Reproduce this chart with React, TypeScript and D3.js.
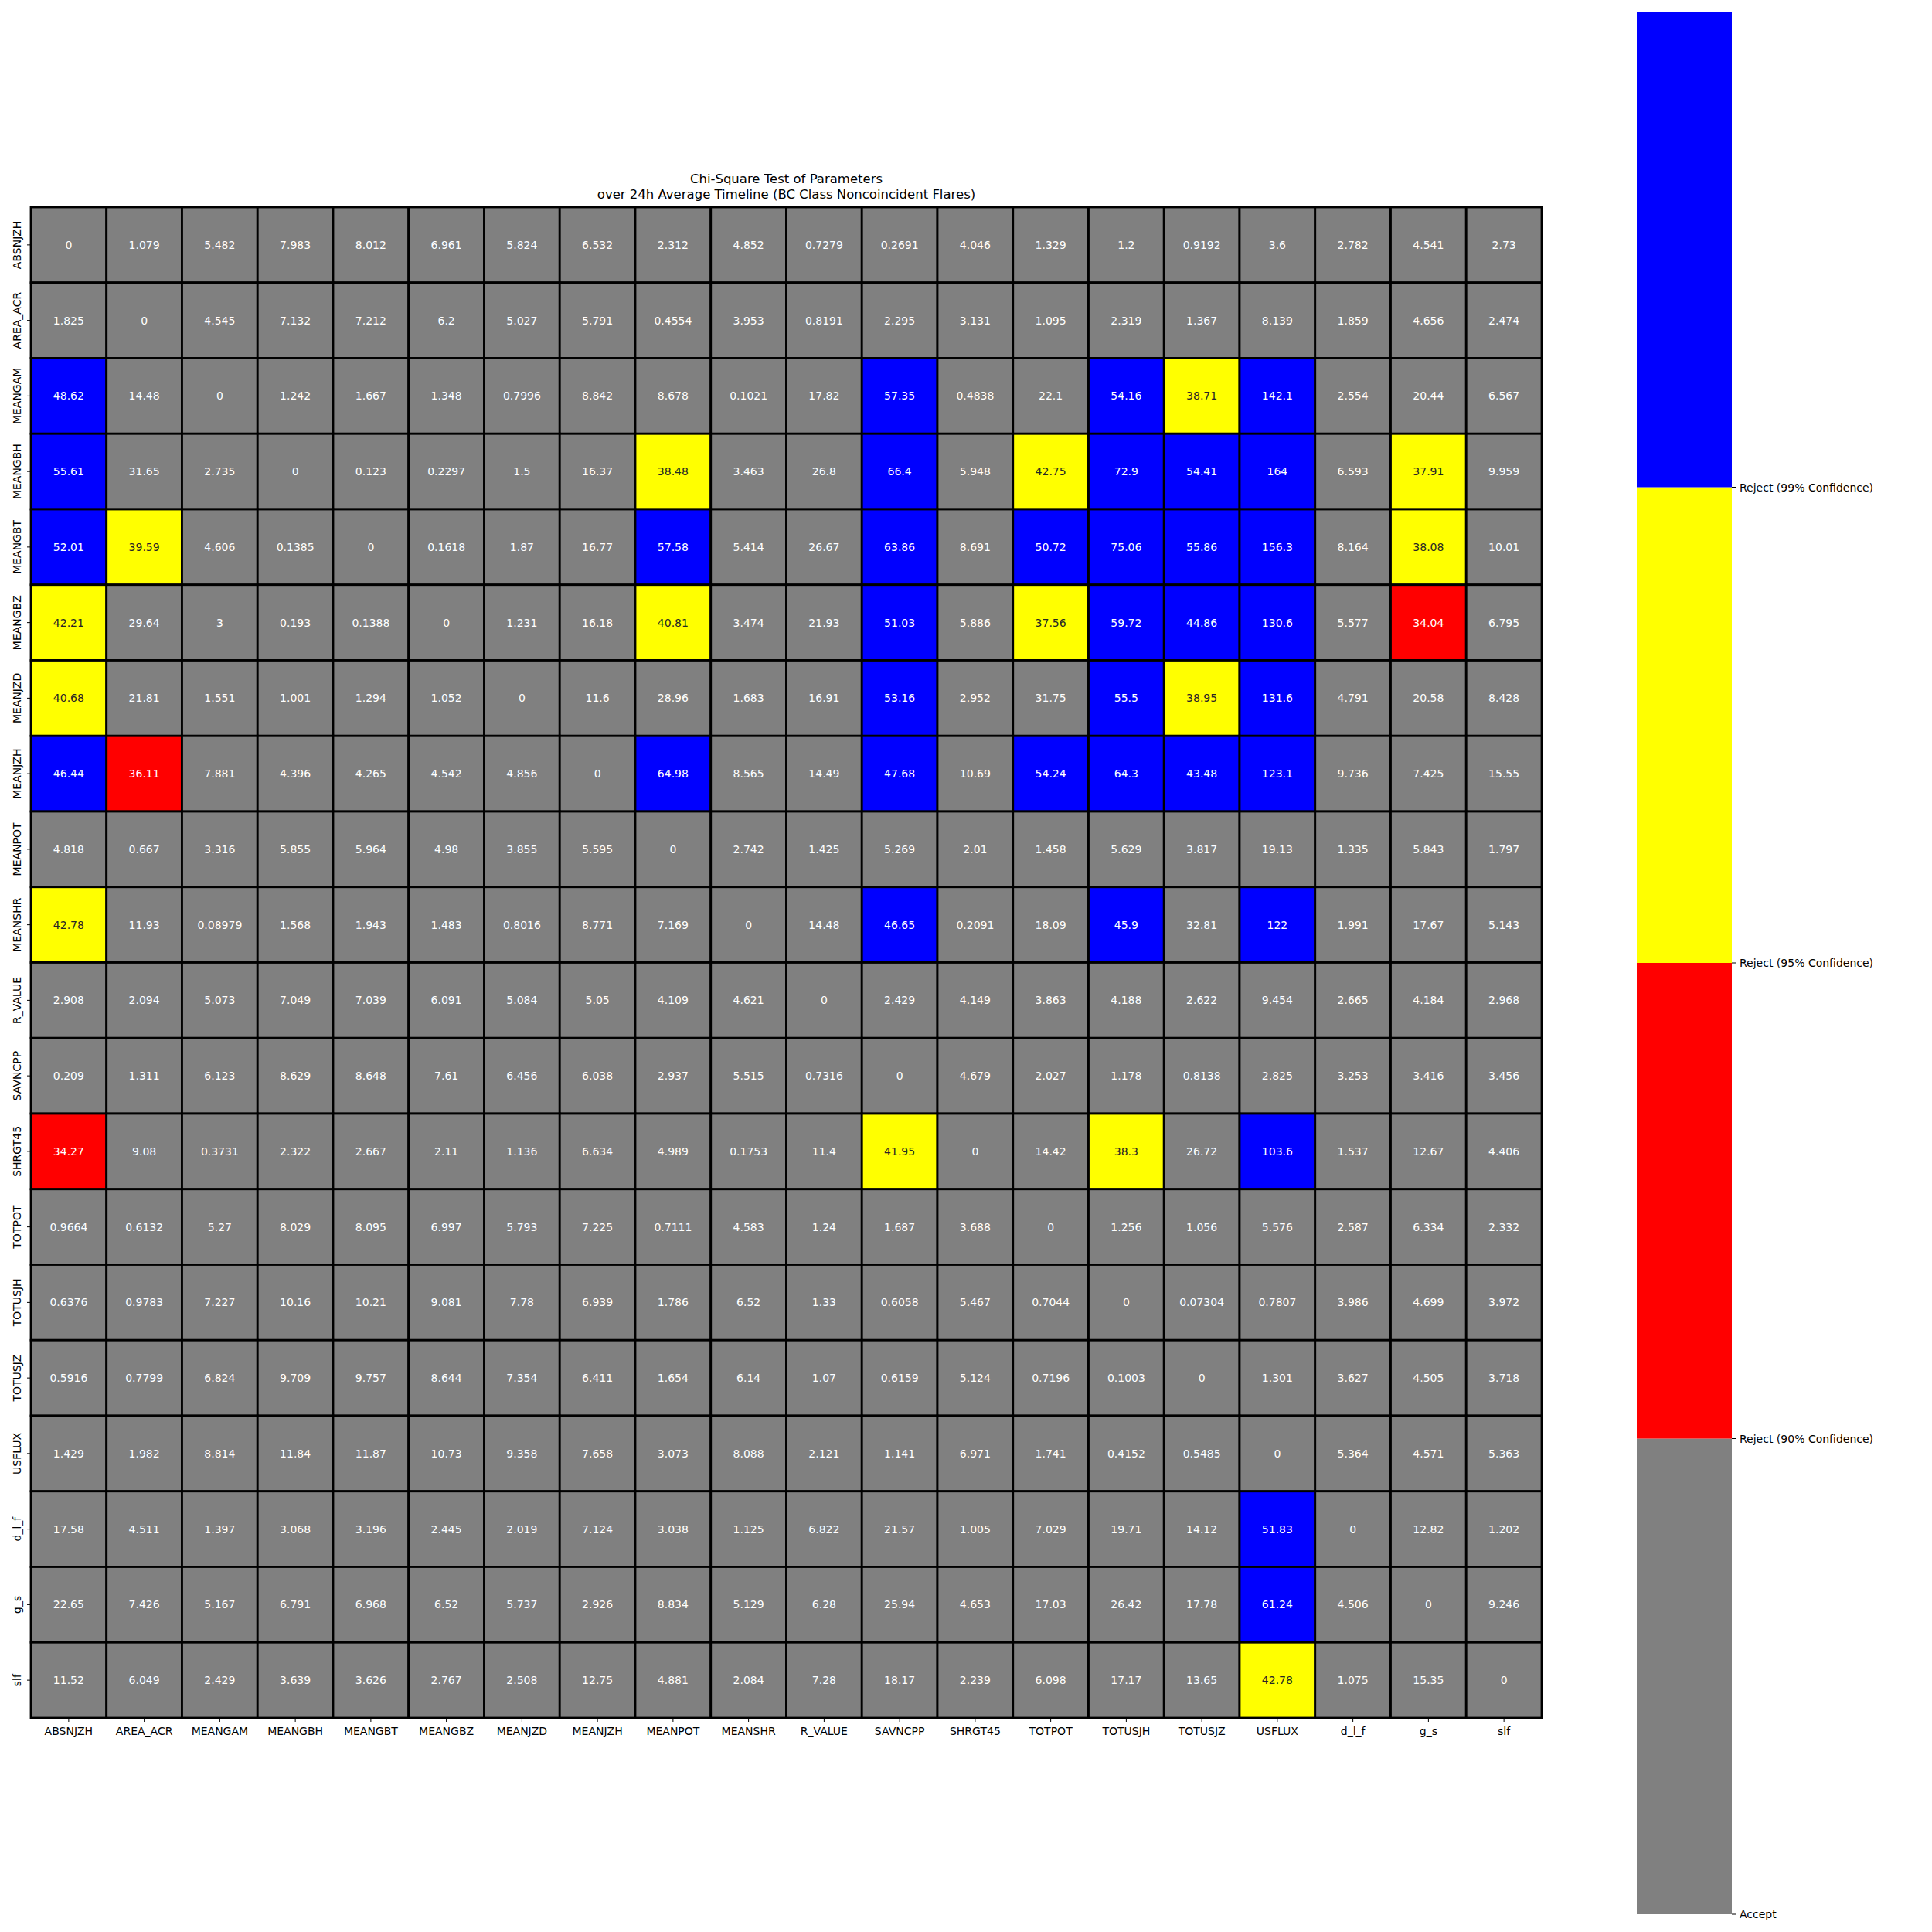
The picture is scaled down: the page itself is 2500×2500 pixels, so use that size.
import React from "react";
import * as d3 from "d3";

const labels = ["ABSNJZH", "AREA_ACR", "MEANGAM", "MEANGBH", "MEANGBT", "MEANGBZ", "MEANJZD", "MEANJZH", "MEANPOT", "MEANSHR", "R_VALUE", "SAVNCPP", "SHRGT45", "TOTPOT", "TOTUSJH", "TOTUSJZ", "USFLUX", "d_l_f", "g_s", "slf"];

const rowABSNJZH = [0, 1.079, 5.482, 7.983, 8.012, 6.961, 5.824, 6.532, 2.312, 4.852, 0.7279, 0.2691, 4.046, 1.329, 1.2, 0.9192, 3.6, 2.782, 4.541, 2.73];
const rowAREA_ACR = [1.825, 0, 4.545, 7.132, 7.212, 6.2, 5.027, 5.791, 0.4554, 3.953, 0.8191, 2.295, 3.131, 1.095, 2.319, 1.367, 8.139, 1.859, 4.656, 2.474];
const rowMEANGAM = [48.62, 14.48, 0, 1.242, 1.667, 1.348, 0.7996, 8.842, 8.678, 0.1021, 17.82, 57.35, 0.4838, 22.1, 54.16, 38.71, 142.1, 2.554, 20.44, 6.567];
const rowMEANGBH = [55.61, 31.65, 2.735, 0, 0.123, 0.2297, 1.5, 16.37, 38.48, 3.463, 26.8, 66.4, 5.948, 42.75, 72.9, 54.41, 164, 6.593, 37.91, 9.959];
const rowMEANGBT = [52.01, 39.59, 4.606, 0.1385, 0, 0.1618, 1.87, 16.77, 57.58, 5.414, 26.67, 63.86, 8.691, 50.72, 75.06, 55.86, 156.3, 8.164, 38.08, 10.01];
const rowMEANGBZ = [42.21, 29.64, 3, 0.193, 0.1388, 0, 1.231, 16.18, 40.81, 3.474, 21.93, 51.03, 5.886, 37.56, 59.72, 44.86, 130.6, 5.577, 34.04, 6.795];
const rowMEANJZD = [40.68, 21.81, 1.551, 1.001, 1.294, 1.052, 0, 11.6, 28.96, 1.683, 16.91, 53.16, 2.952, 31.75, 55.5, 38.95, 131.6, 4.791, 20.58, 8.428];
const rowMEANJZH = [46.44, 36.11, 7.881, 4.396, 4.265, 4.542, 4.856, 0, 64.98, 8.565, 14.49, 47.68, 10.69, 54.24, 64.3, 43.48, 123.1, 9.736, 7.425, 15.55];
const rowMEANPOT = [4.818, 0.667, 3.316, 5.855, 5.964, 4.98, 3.855, 5.595, 0, 2.742, 1.425, 5.269, 2.01, 1.458, 5.629, 3.817, 19.13, 1.335, 5.843, 1.797];
const rowMEANSHR = [42.78, 11.93, 0.08979, 1.568, 1.943, 1.483, 0.8016, 8.771, 7.169, 0, 14.48, 46.65, 0.2091, 18.09, 45.9, 32.81, 122, 1.991, 17.67, 5.143];
const rowR_VALUE = [2.908, 2.094, 5.073, 7.049, 7.039, 6.091, 5.084, 5.05, 4.109, 4.621, 0, 2.429, 4.149, 3.863, 4.188, 2.622, 9.454, 2.665, 4.184, 2.968];
const rowSAVNCPP = [0.209, 1.311, 6.123, 8.629, 8.648, 7.61, 6.456, 6.038, 2.937, 5.515, 0.7316, 0, 4.679, 2.027, 1.178, 0.8138, 2.825, 3.253, 3.416, 3.456];
const rowSHRGT45 = [34.27, 9.08, 0.3731, 2.322, 2.667, 2.11, 1.136, 6.634, 4.989, 0.1753, 11.4, 41.95, 0, 14.42, 38.3, 26.72, 103.6, 1.537, 12.67, 4.406];
const rowTOTPOT = [0.9664, 0.6132, 5.27, 8.029, 8.095, 6.997, 5.793, 7.225, 0.7111, 4.583, 1.24, 1.687, 3.688, 0, 1.256, 1.056, 5.576, 2.587, 6.334, 2.332];
const rowTOTUSJH = [0.6376, 0.9783, 7.227, 10.16, 10.21, 9.081, 7.78, 6.939, 1.786, 6.52, 1.33, 0.6058, 5.467, 0.7044, 0, 0.07304, 0.7807, 3.986, 4.699, 3.972];
const rowTOTUSJZ = [0.5916, 0.7799, 6.824, 9.709, 9.757, 8.644, 7.354, 6.411, 1.654, 6.14, 1.07, 0.6159, 5.124, 0.7196, 0.1003, 0, 1.301, 3.627, 4.505, 3.718];
const rowUSFLUX = [1.429, 1.982, 8.814, 11.84, 11.87, 10.73, 9.358, 7.658, 3.073, 8.088, 2.121, 1.141, 6.971, 1.741, 0.4152, 0.5485, 0, 5.364, 4.571, 5.363];
const rowD_L_F = [17.58, 4.511, 1.397, 3.068, 3.196, 2.445, 2.019, 7.124, 3.038, 1.125, 6.822, 21.57, 1.005, 7.029, 19.71, 14.12, 51.83, 0, 12.82, 1.202];
const rowG_S = [22.65, 7.426, 5.167, 6.791, 6.968, 6.52, 5.737, 2.926, 8.834, 5.129, 6.28, 25.94, 4.653, 17.03, 26.42, 17.78, 61.24, 4.506, 0, 9.246];
const rowSLF = [11.52, 6.049, 2.429, 3.639, 3.626, 2.767, 2.508, 12.75, 4.881, 2.084, 7.28, 18.17, 2.239, 6.098, 17.17, 13.65, 42.78, 1.075, 15.35, 0];

const matrix = [rowABSNJZH, rowAREA_ACR, rowMEANGAM, rowMEANGBH, rowMEANGBT, rowMEANGBZ, rowMEANJZD, rowMEANJZH, rowMEANPOT, rowMEANSHR, rowR_VALUE, rowSAVNCPP, rowSHRGT45, rowTOTPOT, rowTOTUSJH, rowTOTUSJZ, rowUSFLUX, rowD_L_F, rowG_S, rowSLF];

// chi-square critical values (24 dof): 90%, 95%, 99%
const thresholds = [33.196, 36.415, 42.98];
const categoryLabels = ["Accept", "Reject (90% Confidence)", "Reject (95% Confidence)", "Reject (99% Confidence)"];
const categoryColors = ["#808080", "#ff0000", "#ffff00", "#0000ff"];

const titleLines = ["Chi-Square Test of Parameters", "over 24h Average Timeline (BC Class Noncoincident Flares)"];

const FONT = "DejaVu Sans, Verdana, sans-serif";

function fmt(v: number): string {
  if (v === 0) return "0";
  const s = Number(v.toPrecision(4)).toString();
  return s;
}

export default function App() {
  const left = 40, right = 1995, top = 268, bottom = 2223;
  const x = d3.scaleBand<string>().domain(labels).range([left, right]);
  const y = d3.scaleBand<string>().domain(labels).range([top, bottom]);
  const cat = d3.scaleThreshold<number, number>().domain(thresholds).range([0, 1, 2, 3]);

  const cbLeft = 2118, cbRight = 2241, cbTop = 15, cbBottom = 2477;
  const cb = d3.scaleLinear().domain([0, categoryLabels.length]).range([cbBottom, cbTop]);

  const cells: React.ReactNode[] = [];
  const texts: React.ReactNode[] = [];
  matrix.forEach((row, i) => {
    row.forEach((v, j) => {
      const c = cat(v);
      const cx = x(labels[j])!;
      const cy = y(labels[i])!;
      cells.push(
        <rect key={`c${i}-${j}`} x={cx} y={cy} width={x.bandwidth()} height={y.bandwidth()}
          fill={categoryColors[c]} stroke="#000" strokeWidth={2.8} />
      );
      texts.push(
        <text key={`t${i}-${j}`} x={cx + x.bandwidth() / 2} y={cy + y.bandwidth() / 2}
          textAnchor="middle" dominantBaseline="central" fontSize={14}
          fill={c === 2 ? "#262626" : "#ffffff"}>{fmt(v)}</text>
      );
    });
  });

  return (
    <svg width={2500} height={2500} style={{ position: "absolute", left: 0, top: 0, display: "block", background: "#fff" }}
      fontFamily={FONT}>
      <rect x={0} y={0} width={2500} height={2500} fill="#fff" />
      {titleLines.map((t, k) => (
        <text key={`title${k}`} x={(left + right) / 2} y={237 + k * 20} textAnchor="middle" fontSize={16.5} fill="#000">{t}</text>
      ))}
      <g>{cells}</g>
      <g>{texts}</g>
      {/* y axis */}
      {labels.map((l) => {
        const cy = y(l)! + y.bandwidth() / 2;
        return (
          <g key={`yl${l}`}>
            <line x1={left - 5} x2={left} y1={cy} y2={cy} stroke="#000" strokeWidth={1} />
            <text x={26.5} y={cy} transform={`rotate(-90, 26.5, ${cy})`} textAnchor="middle" fontSize={14} fill="#000">{l}</text>
          </g>
        );
      })}
      {/* x axis */}
      {labels.map((l) => {
        const cx = x(l)! + x.bandwidth() / 2;
        return (
          <g key={`xl${l}`}>
            <line x1={cx} x2={cx} y1={bottom} y2={bottom + 5} stroke="#000" strokeWidth={1} />
            <text x={cx} y={2245} textAnchor="middle" fontSize={14} fill="#000">{l}</text>
          </g>
        );
      })}
      {/* colorbar */}
      {categoryColors.map((col, k) => (
        <rect key={`cb${k}`} x={cbLeft} y={cb(k + 1)} width={cbRight - cbLeft} height={cb(k) - cb(k + 1)} fill={col} />
      ))}
      {categoryLabels.map((l, k) => (
        <g key={`cbt${k}`}>
          <line x1={cbRight} x2={cbRight + 5} y1={cb(k)} y2={cb(k)} stroke="#000" strokeWidth={1} />
          <text x={cbRight + 10} y={cb(k)} dominantBaseline="central" fontSize={14} fill="#000">{l}</text>
        </g>
      ))}
    </svg>
  );
}
